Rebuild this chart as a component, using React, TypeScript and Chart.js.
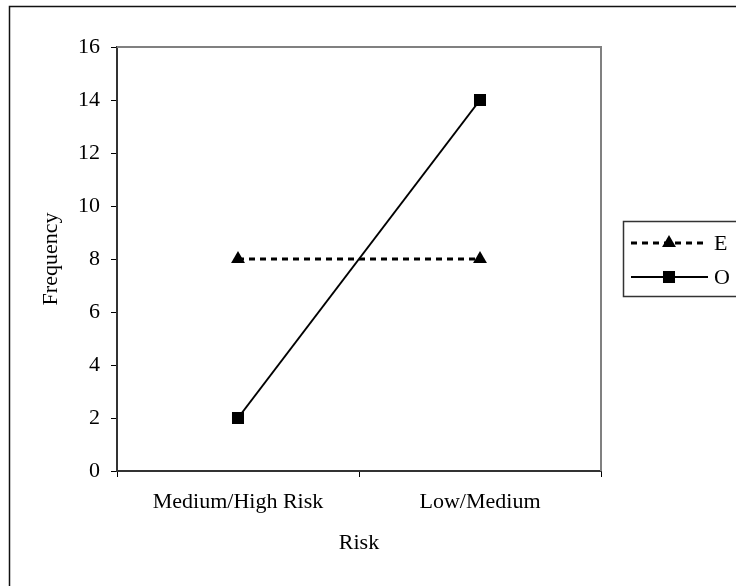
import React, { useEffect, useRef } from "react";
import { Chart, registerables } from "chart.js";

Chart.register(...registerables);

const categories = ["Medium/High Risk", "Low/Medium"];
const seriesE = [8, 8];
const seriesO = [2, 14];
const seriesLabels = ["E", "O"];
const yMin = 0;
const yMax = 16;
const yStep = 2;

const FONT = "'Liberation Serif', 'Times New Roman', serif";
const FS = 22;

const framePlugin = {
  id: "frame",
  beforeDraw(chart: any) {
    const { ctx, width, height } = chart;
    ctx.save();
    ctx.fillStyle = "#fff";
    ctx.fillRect(0, 0, width, height);
    ctx.restore();
  },
  beforeDatasetsDraw(chart: any) {
    const { ctx, chartArea } = chart;
    const { left, top, right, bottom } = chartArea;
    ctx.save();
    ctx.strokeStyle = "#808080";
    ctx.lineWidth = 2;
    ctx.beginPath();
    ctx.moveTo(left, top);
    ctx.lineTo(right, top);
    ctx.lineTo(right, bottom);
    ctx.stroke();
    ctx.restore();
  },
  afterDraw(chart: any) {
    const { ctx } = chart;
    ctx.save();
    // outer chart border
    ctx.strokeStyle = "#111";
    ctx.lineWidth = 1.5;
    ctx.strokeRect(9.5, 6.5, 800, 700);
    // legend box
    ctx.strokeStyle = "#333";
    ctx.lineWidth = 1.5;
    ctx.strokeRect(623.5, 221.5, 200, 75);
    const rows = [243, 277];
    chart.data.datasets.forEach((ds: any, i: number) => {
      const y = rows[i];
      ctx.strokeStyle = "#000";
      ctx.lineWidth = ds.borderWidth;
      ctx.setLineDash(ds.borderDash || []);
      ctx.beginPath();
      ctx.moveTo(631, y);
      ctx.lineTo(708, y);
      ctx.stroke();
      ctx.setLineDash([]);
      ctx.fillStyle = "#000";
      const cx = 669;
      if (ds.pointStyle === "triangle") {
        const r = ds.pointRadius;
        ctx.beginPath();
        ctx.moveTo(cx, y - r);
        ctx.lineTo(cx + r * 0.866, y + r * 0.5);
        ctx.lineTo(cx - r * 0.866, y + r * 0.5);
        ctx.closePath();
        ctx.fill();
      } else {
        const s = ds.pointRadius * Math.SQRT1_2;
        ctx.fillRect(cx - s, y - s, 2 * s, 2 * s);
      }
      ctx.font = `${FS}px ${FONT}`;
      ctx.textBaseline = "middle";
      ctx.textAlign = "left";
      ctx.fillText(ds.label, 714, y + 1);
    });
    ctx.restore();
  },
};

export default function App() {
  const ref = useRef<HTMLCanvasElement | null>(null);
  useEffect(() => {
    if (!ref.current) return;
    const font = { family: FONT, size: FS };
    const chart = new Chart(ref.current, {
      type: "line",
      data: {
        labels: categories,
        datasets: [
          {
            label: seriesLabels[0],
            data: seriesE,
            borderColor: "#000",
            backgroundColor: "#000",
            borderWidth: 3,
            borderDash: [6, 5],
            pointStyle: "triangle",
            pointRadius: 8,
            pointBackgroundColor: "#000",
            pointBorderColor: "#000",
            pointBorderWidth: 0,
            fill: false,
            tension: 0,
          } as any,
          {
            label: seriesLabels[1],
            data: seriesO,
            borderColor: "#000",
            backgroundColor: "#000",
            borderWidth: 2,
            pointStyle: "rect",
            pointRadius: 8.5,
            pointBackgroundColor: "#000",
            pointBorderColor: "#000",
            pointBorderWidth: 0,
            fill: false,
            tension: 0,
          } as any,
        ],
      },
      options: {
        responsive: false,
        animation: false,
        devicePixelRatio: 1,
        layout: { padding: { top: 47, right: 135, left: 0, bottom: 0 } },
        plugins: { legend: { display: false }, tooltip: { enabled: false } },
        scales: {
          x: {
            type: "category",
            offset: true,
            grid: {
              display: true,
              drawOnChartArea: false,
              drawTicks: true,
              tickLength: 6,
              color: "#000",
              offset: true,
            },
            border: { display: true, color: "#333", width: 2 },
            ticks: { font, color: "#000", padding: 12, maxRotation: 0 },
            title: {
              display: true,
              text: "Risk",
              font,
              color: "#000",
              padding: { top: 0, bottom: 30 },
            },
            afterFit: (s: any) => {
              s.height = 115;
            },
          },
          y: {
            min: yMin,
            max: yMax,
            ticks: { stepSize: yStep, font, color: "#000", padding: 11 },
            grid: {
              display: true,
              drawOnChartArea: false,
              drawTicks: true,
              tickLength: 6,
              color: "#000",
            },
            border: { display: true, color: "#333", width: 2 },
            title: {
              display: true,
              text: "Frequency",
              font,
              color: "#000",
              padding: { top: 38, bottom: 0 },
            },
            afterFit: (s: any) => {
              s.width = 117;
            },
          },
        },
      } as any,
      plugins: [framePlugin],
    });
    return () => chart.destroy();
  }, []);
  return (
    <div style={{ position: "fixed", left: 0, top: 0, width: 736, height: 586, background: "#fff" }}>
      <canvas ref={ref} width={736} height={586} style={{ display: "block" }} />
    </div>
  );
}
